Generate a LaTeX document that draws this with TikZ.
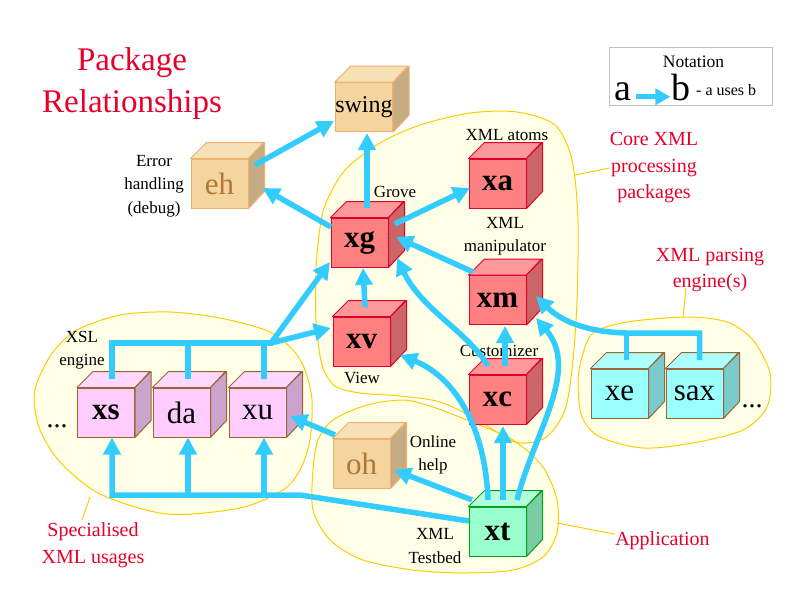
\documentclass[tikz,border=0pt]{standalone}
\usepackage{fontspec}
\setmainfont{Liberation Serif}
\usetikzlibrary{arrows.meta}
\definecolor{arrowc}{HTML}{33CCFF}
\definecolor{blobc}{HTML}{FFFFE8}
\definecolor{blobb}{HTML}{FFCC00}
\definecolor{titlered}{HTML}{E8002A}
\definecolor{coreF}{HTML}{FF8080}
\definecolor{coreT}{HTML}{FF9999}
\definecolor{coreS}{HTML}{CC6666}
\definecolor{coreB}{HTML}{E00030}
\definecolor{orngF}{HTML}{F4D5A0}
\definecolor{orngT}{HTML}{F6E0B6}
\definecolor{orngS}{HTML}{C6AC82}
\definecolor{orngB}{HTML}{F0B070}
\definecolor{pinkF}{HTML}{FFCCFF}
\definecolor{pinkT}{HTML}{FFD8FF}
\definecolor{pinkS}{HTML}{CCA3CC}
\definecolor{pinkB}{HTML}{996633}
\definecolor{cyanF}{HTML}{99FFFF}
\definecolor{cyanT}{HTML}{ADFFFF}
\definecolor{cyanS}{HTML}{7ACCCC}
\definecolor{cyanB}{HTML}{996633}
\definecolor{grnF}{HTML}{99FFCC}
\definecolor{grnT}{HTML}{B3FFD9}
\definecolor{grnS}{HTML}{7ACCA3}
\definecolor{grnB}{HTML}{00A020}
\definecolor{ehtext}{HTML}{B07838}
\definecolor{notegray}{HTML}{C0C0C0}
\tikzset{
  cubefront/.style={rectangle, minimum width=57pt, minimum height=49pt, inner sep=0pt, line width=1pt, font=\fontsize{31}{31}\selectfont},
  arr/.style={draw=arrowc, line width=5.5pt, line join=round, -{Triangle[length=17pt,width=17pt]}},
  busline/.style={draw=arrowc, line width=5.5pt, line join=miter},
  lbl/.style={font=\fontsize{17}{23.5}\selectfont, align=center, inner sep=0pt},
  redlbl/.style={font=\fontsize{20}{26.5}\selectfont, text=titlered, align=center, inner sep=0pt},
  titlelbl/.style={font=\fontsize{33}{40}\selectfont, text=titlered, inner sep=0pt, anchor=base},
  blobline/.style={draw=blobb, line width=1pt},
  leader/.style={draw=blobb, line width=1pt},
}
\newcommand\pkgcube[4]{%
  \node[cubefront, fill=#3F, draw=#3B] (#1) at (#2) {#4};
  \filldraw[fill=#3T, draw=#3B, line width=1pt, line join=round] (#1.north west) -- ++(16,-16) -- ++(57,0) -- (#1.north east) -- cycle;
  \filldraw[fill=#3S, draw=#3B, line width=1pt, line join=round] (#1.north east) -- ++(16,-16) -- ++(0,49) -- (#1.south east) -- cycle;
}
\begin{document}
\begin{tikzpicture}[x=1pt, y=-1pt]
\useasboundingbox[fill=white] (0,0) rectangle (800,600);

% blobs
\path[save path=\pathS] plot[smooth cycle] coordinates {(38,380) (53,352) (77,330) (120,315) (170,312) (220,318) (268,331) (293,350) (305,370) (312,400) (310,440) (300,470) (283,490) (240,508) (167,514) (100,494) (60,462) (40,430) (34,400)};
\path[save path=\pathP] plot[smooth cycle] coordinates {(593,333) (627,322) (687,317) (727,322) (753,340) (770,373) (767,407) (743,430) (693,443) (643,448) (600,437) (582,417) (578,383) (582,357)};
\path[save path=\pathC] plot[smooth cycle] coordinates {(325,205) (345,170) (380,143) (420,125) (470,113) (517,112) (555,125) (572,160) (578,220) (577,300) (573,360) (565,410) (545,438) (515,442) (478,420) (440,402) (400,396) (360,393) (335,386) (322,365) (316,320) (316,270) (319,235)};
\path[save path=\pathA] plot[smooth cycle] coordinates {(333,420) (367,405) (403,400) (430,406) (467,420) (513,440) (543,467) (557,500) (557,533) (543,557) (513,570) (463,573) (413,570) (363,560) (330,540) (313,510) (313,470) (318,440)};
\fill[blobc, use path=\pathS];
\fill[blobc, use path=\pathP];
\fill[blobc, use path=\pathC];
\fill[blobc, use path=\pathA];
\draw[blobline, use path=\pathS];
\draw[blobline, use path=\pathP];
\draw[blobline, use path=\pathC];
\draw[blobline, use path=\pathA];

% title
\node[titlelbl] (t1) at (132,70) {Package};
\node[titlelbl] (t2) at (132,112) {Relationships};

% notation box
\node[draw=notegray, line width=1pt, minimum width=163pt, minimum height=58pt, inner sep=0pt] (notation) at (690.5,76) {};
\node[font=\fontsize{17.5}{20}\selectfont, inner sep=0pt, anchor=base] (notetitle) at (693.5,67) {Notation};
\node[font=\fontsize{38}{40}\selectfont, inner sep=0pt, anchor=base, text height=0.66em, text depth=0pt] (na) at (623,100) {a};
\node[font=\fontsize{38}{40}\selectfont, inner sep=0pt, anchor=base, text height=0.66em, text depth=0pt] (nb) at (681,100) {b};
\draw[arr, line width=5pt, -{Triangle[length=15pt,width=16pt]}] ([xshift=4pt]na.east) -- ([xshift=-1pt]nb.west);
\node[font=\fontsize{16}{18}\selectfont, inner sep=0pt, anchor=base west] (usesb) at (696,95) {- a uses b};

% red labels
\node[redlbl] (coreLbl) at (654,168) {Core XML\\processing\\packages};
\node[redlbl] (parseLbl) at (710,270) {XML parsing\\engine(s)};
\node[redlbl] (specLbl) at (93,545) {Specialised\\XML usages};
\node[redlbl, anchor=base] (appLbl) at (662.5,545) {Application};
\draw[leader] (575,175) -- (coreLbl.west);
\draw[leader] (683,317) -- (686,288);
\draw[leader] (557,523) -- ([yshift=6pt]appLbl.west);
\draw[leader] (90,497) -- (82,520);

% cubes
\pkgcube{swing}{364,107}{orng}{\fontsize{24}{24}\selectfont swing}
\pkgcube{eh}{219.5,183.5}{orng}{\color{ehtext}eh}
\pkgcube{xg}{359.5,242.5}{core}{\bfseries xg}
\pkgcube{xa}{497.5,183.5}{core}{\bfseries xa}
\pkgcube{xm}{497.5,300}{core}{\bfseries xm}
\pkgcube{xv}{361.5,341.5}{core}{\bfseries xv}
\pkgcube{xc}{497.5,399.5}{core}{\bfseries xc}
\pkgcube{xt}{497.5,531.5}{grn}{\bfseries xt}
\pkgcube{oh}{361.5,463.5}{orng}{\color{ehtext}oh}
\pkgcube{xs}{106,412.5}{pink}{\bfseries xs}
\pkgcube{da}{181.5,412.5}{pink}{da}
\pkgcube{xu}{257.5,412.5}{pink}{xu}
\pkgcube{xe}{619.5,393.5}{cyan}{xe}
\pkgcube{sax}{694.5,393.5}{cyan}{sax}

% small labels
\node[lbl] (ehLbl) at (154,186) {Error\\handling\\(debug)};
\node[lbl, anchor=base] (groveLbl) at (395,197) {Grove};
\node[lbl, anchor=base] (xaLbl) at (507,140) {XML atoms};
\node[lbl] (xmLbl) at (505,236) {XML\\manipulator};
\node[lbl, anchor=base] (xvLbl) at (362,383) {View};
\node[lbl, anchor=base] (xcLbl) at (499,356) {Customizer};
\node[lbl] (xsLbl) at (82,350) {XSL\\engine};
\node[lbl] (ohLbl) at (433,455) {Online\\help};
\node[lbl] (xtLbl) at (435,546) {XML\\Testbed};
\node[font=\fontsize{28}{28}\selectfont, inner sep=0pt, anchor=base] (dotsL) at (57,427) {...};
\node[font=\fontsize{28}{28}\selectfont, inner sep=0pt, anchor=base] (dotsR) at (752,407) {...};

% connectors
\draw[arr] ([shift={(35.5,-18.5)}]eh.center) -- ([shift={(-30,14)}]swing.center);
\draw[arr] ([shift={(-28.5,-15.5)}]xg.center) -- ([shift={(43,4.5)}]eh.center);
\draw[arr] ([shift={(7.5,-34.5)}]xg.center) -- ([shift={(3,26)}]swing.center);
\draw[arr] ([shift={(35.5,-18.5)}]xg.center) -- ([shift={(-27.5,4.5)}]xa.center);
\draw[arr] ([shift={(-24.5,-28)}]xm.center) -- ([shift={(36.5,-5.5)}]xg.center);
\draw[arr] ([shift={(3.5,-34.5)}]xv.center) -- ([shift={(3.5,25.5)}]xg.center);
\draw[arr] ([shift={(-9.5,-33.5)}]xc.center) .. controls (468,332) and (422,310) .. ([shift={(37.5,15.5)}]xg.center);
\draw[arr] ([shift={(7.5,-33.5)}]xc.center) -- ([shift={(7.5,26)}]xm.center);
\draw[arr] ([shift={(-9.5,-31.5)}]xt.center) .. controls (485,420) and (450,375) .. ([shift={(38.5,13.5)}]xv.center);
\draw[arr] ([shift={(5.5,-31.5)}]xt.center) -- ([shift={(5.5,26.5)}]xc.center);
\draw[arr] ([shift={(19.5,-31.5)}]xt.center) .. controls (535,430) and (580,370) .. ([shift={(38.5,18)}]xm.center);
\draw[arr] ([shift={(-25.5,-31.5)}]xt.center) -- ([shift={(32.5,6.5)}]oh.center);
\draw[arr] ([shift={(-26.5,-28.5)}]oh.center) -- ([shift={(32.5,3.5)}]xu.center);

% bottom bus from xt
\coordinate (sbK) at (300,495);
\coordinate (sbL) at (112,495);
\coordinate (sbD) at (188,495);
\coordinate (sbU) at (264,495);
\draw[arr, line join=miter] ([shift={(-28.5,-10.5)}]xt.center) -- (sbK) -- (sbL) -- (sbL |- xs.south);
\draw[arr] (sbD) -- (sbD |- da.south);
\draw[arr] (sbU) -- (sbU |- xu.south);

% top bus from xs, da, xu
\coordinate (stL) at (112,343);
\coordinate (stD) at (188,343);
\coordinate (stU) at (264,343);
\coordinate (stK) at (273,343);
\draw[busline] ([shift={(6,-33.5)}]xs.center) -- (stL) -- (stK);
\draw[busline] ([shift={(6.5,-33.5)}]da.center) -- (stD);
\draw[busline] ([shift={(6.5,-33.5)}]xu.center) -- (stU);
\draw[arr] ([xshift=-2pt]stK) -- ([shift={(-30.5,-13.5)}]xv.center);
\draw[arr] ([xshift=-2pt]stK) -- ([shift={(-29.5,19.5)}]xg.center);

% parser bus
\coordinate (pJ) at (626.5,333);
\coordinate (pR) at (699.5,333);
\draw[busline] ([shift={(7,-33.5)}]xe.center) -- (pJ);
\draw[arr, line join=miter] ([shift={(5,-33.5)}]sax.center) -- (pR) -- (pJ) .. controls (585,332) and (560,320) .. ([shift={(38.5,-4)}]xm.center);
\end{tikzpicture}
\end{document}
